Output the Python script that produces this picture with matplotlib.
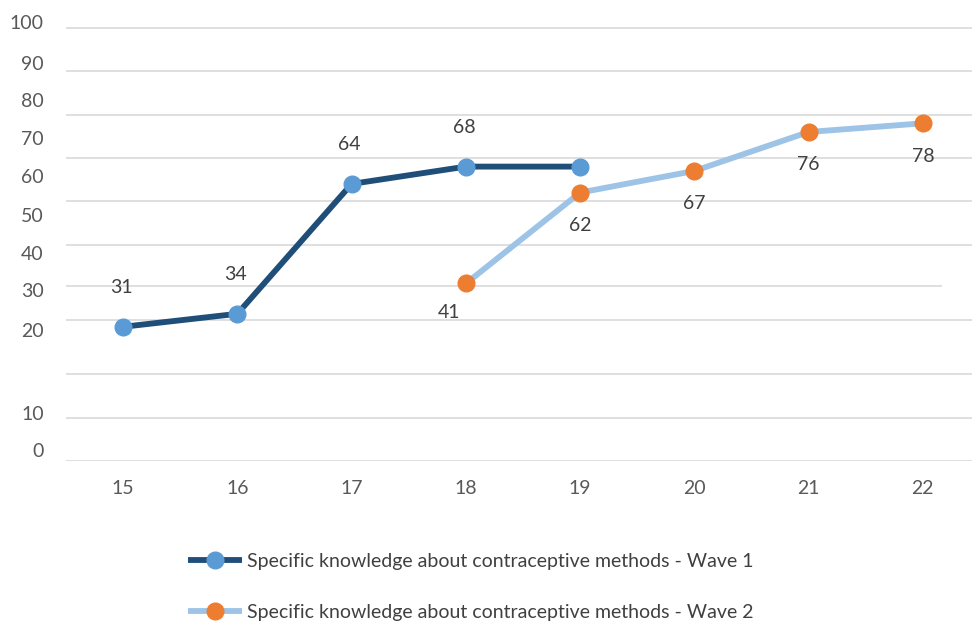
import matplotlib
matplotlib.use('Agg')
import matplotlib.pyplot as plt

plt.rcParams['font.family'] = ['Lato', 'DejaVu Sans']

ages = [15, 16, 17, 18, 19, 20, 21, 22]

wave1_x = [15, 16, 17, 18, 19]
wave1_y = [31, 34, 64, 68, 68]
wave1_shown = [True, True, True, True, False]

wave2_x = [18, 19, 20, 21, 22]
wave2_y = [41, 62, 67, 76, 78]

ytick_labels = ['0', '10', '20', '30', '40', '50', '60', '70', '80', '90', '100']

label1 = 'Specific knowledge about contraceptive methods - Wave 1'
label2 = 'Specific knowledge about contraceptive methods - Wave 2'

# where the axis labels and grid lines sit (in axis units)
ytick_pos = [2.5, 11.2, 30.3, 39.4, 48.1, 56.9, 65.8, 74.7, 83.4, 92.0, 101.4]
grid_full = [0, 10, 20, 32.6, 50, 60, 70, 80, 90, 100]
grid_short = [40.5]

W, H = 972, 626
fig = plt.figure(figsize=(W / 100, H / 100), dpi=100)
ax = fig.add_axes([66 / W, (H - 461) / H, (W - 66) / W, (461 - 22) / H])

ax.set_xlim(14.5, 22.43)
ax.set_ylim(0, 100)

for g in grid_full:
    ax.axhline(g, color='#d9d9d9', lw=1.2, zorder=0)
for g in grid_short:
    ax.hlines(g, 14.5, 22.17, color='#d9d9d9', lw=1.2, zorder=0)

navy = '#1f4e79'
sky = '#5b9bd5'
pale = '#9dc3e6'
orange = '#ed7d31'

ax.plot(wave1_x, wave1_y, color=navy, lw=4.2, marker='o', ms=12,
        mfc=sky, mec=sky, label=label1, zorder=3, solid_capstyle='butt')
ax.plot(wave2_x, wave2_y, color=pale, lw=4.2, marker='o', ms=12,
        mfc=orange, mec=orange, label=label2, zorder=3, solid_capstyle='butt')

txt = '#404040'
for x, y, show in zip(wave1_x, wave1_y, wave1_shown):
    if show:
        ax.annotate(str(y), (x, y), xytext=(-2, 39), textcoords='offset pixels',
                    ha='center', va='center', fontsize=14, color=txt)
for i, (x, y) in enumerate(zip(wave2_x, wave2_y)):
    dx = -17 if i == 0 else 0
    dy = -29 if i == 0 else -33
    ax.annotate(str(y), (x, y), xytext=(dx, dy), textcoords='offset pixels',
                ha='center', va='center', fontsize=14, color=txt)

ax.set_xticks(ages)
ax.set_xticklabels([str(a) for a in ages])
ax.set_yticks(ytick_pos)
ax.set_yticklabels(ytick_labels)
ax.tick_params(axis='both', length=0, labelsize=14, labelcolor='#595959')
ax.tick_params(axis='y', pad=16)
ax.tick_params(axis='x', pad=14)
for s in ax.spines.values():
    s.set_visible(False)

fig.legend(loc='upper left', bbox_to_anchor=(188 / W, 1 - 553 / H),
           frameon=False, fontsize=14, labelcolor='#404040',
           handlelength=2.8, handletextpad=0.25, labelspacing=1.75,
           borderpad=0, borderaxespad=0)

fig.savefig('out.png', dpi=100)
